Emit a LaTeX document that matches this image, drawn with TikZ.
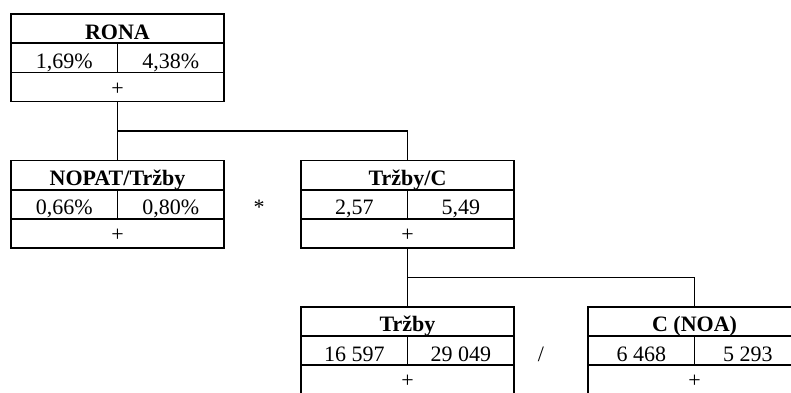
\documentclass[tikz,border=0pt]{standalone}
\usepackage{fontspec}
\setmainfont{Liberation Serif}
\tikzset{
  cell/.style={draw, line width=1.7pt, inner sep=0pt, outer sep=0pt,
    minimum height=29.2pt, text height=21pt, text depth=0pt,
    font=\fontsize{22}{26}\selectfont},
  titlecell/.style={cell, minimum width=213pt, font=\fontsize{22}{26}\selectfont\bfseries},
  halfcell/.style={cell, minimum width=106.5pt},
  pluscell/.style={cell, minimum width=213pt, text height=16pt},
  opsign/.style={inner sep=0pt, outer sep=0pt, text height=21pt, text depth=0pt,
    font=\fontsize{22}{26}\selectfont},
  link/.style={line width=1.7pt}
}
\newcommand\databox[6]{%
  \node[titlecell, anchor=north west] (#1-t) at (#2,#3) {#4};
  \node[halfcell, anchor=north west] (#1-a) at (#1-t.south west) {#5};
  \node[halfcell, anchor=north east] (#1-b) at (#1-t.south east) {#6};
  \node[pluscell, anchor=north west] (#1-p) at (#1-a.south west) {+};
}
\begin{document}
\begin{tikzpicture}[x=1pt, y=-1pt]
  \clip (0,0) rectangle (791,392);
  \fill[white] (0,0) rectangle (791,392);
  \databox{rona}{11}{14}{RONA}{1,69\%}{4,38\%}
  \databox{nopat}{11}{160.5}{NOPAT/Tržby}{0,66\%}{0,80\%}
  \databox{tc}{301}{160.5}{Tržby/C}{2,57}{5,49}
  \databox{tr}{301}{306.7}{Tržby}{16 597}{29 049}
  \databox{noa}{588}{306.7}{C (NOA)}{6 468}{5 293}
  \node[opsign] (times) at (259,204.3) {*};
  \node[opsign] (div) at (541,350.5) {/};
  \coordinate (j1) at (117.5,131);
  \coordinate (j2) at (408,277.5);
  \draw[link] (rona-p.south) -- (nopat-t.north);
  \draw[link] (j1) -| (tc-t.north);
  \draw[link] (tc-p.south) -- (tr-t.north);
  \draw[link] (j2) -| (noa-t.north);
\end{tikzpicture}
\end{document}
